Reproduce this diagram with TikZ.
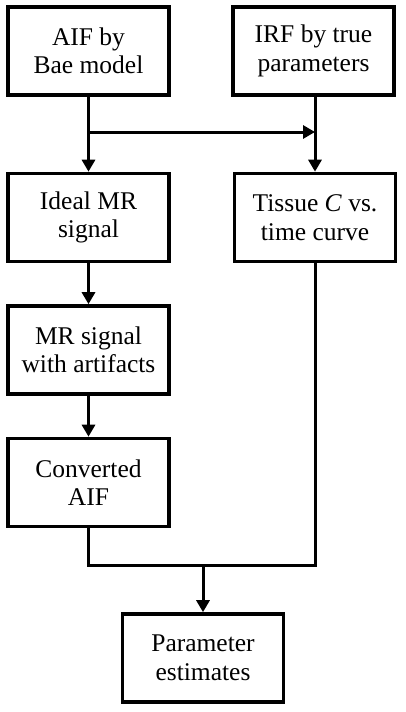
\documentclass[tikz,border=0pt]{standalone}
\usepackage{fontspec}
\setmainfont{Liberation Serif}
\usepackage{tikz}
\usetikzlibrary{calc}
\usetikzlibrary{arrows.meta}

\tikzset{
 flowbox/.style={draw, line width=3.6pt, minimum width=161pt, minimum height=88pt,
  align=center, inner sep=2pt, font=\rmfamily\fontsize{25.5}{28.5}\selectfont},
 flowline/.style={line width=3pt}
}

\begin{document}
\begin{tikzpicture}[x=1pt, y=-1pt]
\useasboundingbox (0,0) rectangle (406,712);

\node[flowbox] (aif) at (88.5,51) {AIF by\\Bae model};
\node[flowbox] (irf) at (313.5,51) {IRF by true\\parameters};
\node[flowbox] (ideal) at (88.5,217.5) {Ideal MR\\signal};
\node[flowbox] (tissue) at (315,217.5) {Tissue \textit{C} vs.\\time curve};
\node[flowbox] (artif) at (88.5,350) {MR signal\\with artifacts};
\node[flowbox] (conv) at (88.5,482.5) {Converted\\AIF};
\node[flowbox] (param) at (203,658) {Parameter\\estimates};

\coordinate (split) at (88.5,132);
\coordinate (merge) at (315,132);
\coordinate (join) at (203,565);

\draw[flowline, ->, >={Triangle[length=12pt,width=13pt]}] (aif.south) -- (ideal.north);
\draw[flowline, ->, >={Triangle[length=12pt,width=13pt]}] (split) -- (merge);
\draw[flowline, ->, >={Triangle[length=12pt,width=13pt]}] (irf.south -| tissue.south) -- (tissue.north);
\draw[flowline, ->, >={Triangle[length=12pt,width=13pt]}] (ideal.south) -- (artif.north);
\draw[flowline, ->, >={Triangle[length=12pt,width=13pt]}] (artif.south) -- (conv.north);
\draw[flowline] (conv.south) |- (join) -| (tissue.south);
\draw[flowline, ->, >={Triangle[length=12pt,width=13pt]}] (join) -- (param.north);
\end{tikzpicture}
\end{document}
